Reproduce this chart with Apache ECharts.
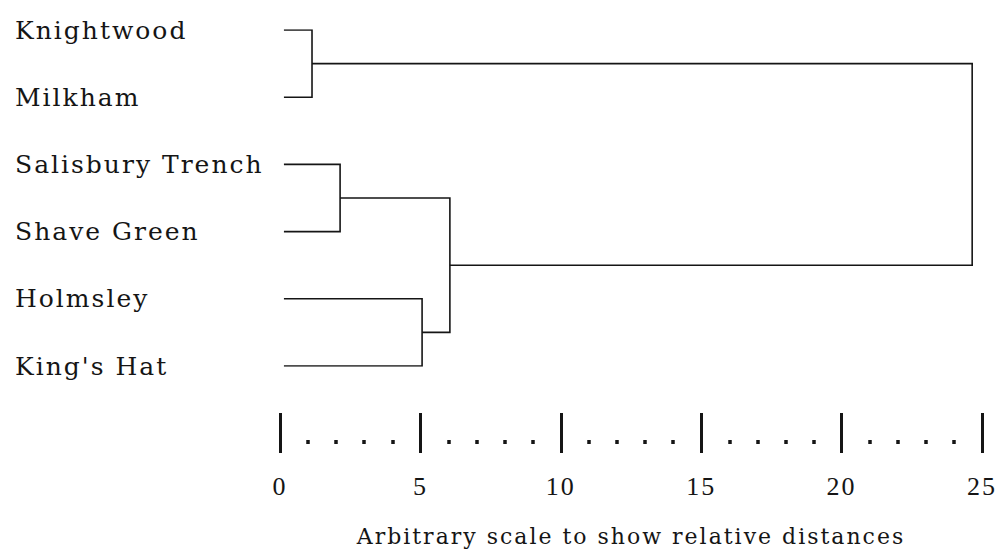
<!DOCTYPE html>
<html>
<head>
<meta charset="utf-8">
<title>Dendrogram</title>
<script src="https://cdn.jsdelivr.net/npm/echarts@6/dist/echarts.min.js"></script>
<style>
  html, body { margin: 0; padding: 0; background: #ffffff; }
  #chart { width: 1000px; height: 552px; }
  /* widely spaced, typewriter-like lettering */
  #chart text { letter-spacing: 2px; }
</style>
</head>
<body>
<div id="chart"></div>
<script>
// Sites (leaves), top to bottom
const leaves = ['Knightwood', 'Milkham', 'Salisbury Trench', 'Shave Green', 'Holmsley', "King's Hat"];

// Rescaled distance at which the leaf branches begin
const leafStart = 0.14;

// Agglomeration steps: [cluster A, cluster B, rescaled distance]
// clusters 0-5 are the leaves, each step creates cluster 6, 7, 8, ...
const mergeA = [0, 2, 4, 7, 6];
const mergeB = [1, 3, 5, 8, 9];
const mergeDist = [1.14, 2.14, 5.06, 6.05, 24.65];

// Scale shown under the tree
const scaleTicks = [0, 5, 10, 15, 20, 25];
const scaleTitle = 'Arbitrary scale to show relative distances';

// Build the bracket polylines from the agglomeration steps
const clusterY = leaves.map((_, i) => i);
const clusterX = leaves.map(() => leafStart);
const branches = [];
for (let k = 0; k < mergeDist.length; k++) {
  const a = mergeA[k], b = mergeB[k], d = mergeDist[k];
  branches.push({
    coords: [
      [clusterX[a], clusterY[a]],
      [d, clusterY[a]],
      [d, clusterY[b]],
      [clusterX[b], clusterY[b]]
    ]
  });
  clusterY.push((clusterY[a] + clusterY[b]) / 2);
  clusterX.push(d);
}

const ink = '#151515';
const chart = echarts.init(document.getElementById('chart'), null, { renderer: 'svg' });

chart.setOption({
  backgroundColor: '#ffffff',
  animation: false,
  grid: { left: 280, right: 18, top: 30, height: 340 },
  xAxis: [
    {
      // major scale marks with numbers and title
      type: 'value',
      position: 'bottom',
      offset: 47,
      min: scaleTicks[0],
      max: scaleTicks[scaleTicks.length - 1],
      interval: scaleTicks[1] - scaleTicks[0],
      axisLine: { show: false, onZero: false },
      axisTick: { show: true, inside: false, length: 40, lineStyle: { color: ink, width: 3 } },
      splitLine: { show: false },
      axisLabel: {
        margin: 60,
        color: ink,
        fontFamily: 'Liberation Serif',
        fontSize: 26
      },
      name: scaleTitle,
      nameLocation: 'middle',
      nameGap: 112,
      nameTextStyle: {
        color: ink,
        fontFamily: 'DejaVu Serif',
        fontSize: 22
      }
    },
    {
      // dotted subdivisions between the major marks
      type: 'value',
      position: 'bottom',
      offset: 74,
      min: scaleTicks[0],
      max: scaleTicks[scaleTicks.length - 1],
      interval: scaleTicks[1] - scaleTicks[0],
      axisLine: { show: false, onZero: false },
      axisTick: { show: false },
      axisLabel: { show: false },
      splitLine: { show: false },
      minorTick: { show: true, splitNumber: 5, length: 4, lineStyle: { color: ink, width: 3.5 } },
      minorSplitLine: { show: false }
    }
  ],
  yAxis: {
    type: 'value',
    inverse: true,
    min: 0,
    max: leaves.length - 1,
    interval: 1,
    axisLine: { show: false, onZero: false },
    axisTick: { show: false },
    splitLine: { show: false },
    axisLabel: {
      formatter: (v) => leaves[v] || '',
      align: 'left',
      margin: 265,
      color: ink,
      fontFamily: 'DejaVu Serif',
      fontSize: 25
    }
  },
  series: [
    {
      type: 'lines',
      coordinateSystem: 'cartesian2d',
      xAxisIndex: 0,
      yAxisIndex: 0,
      polyline: true,
      silent: true,
      lineStyle: { color: ink, width: 1.6, opacity: 1 },
      data: branches
    }
  ]
});
</script>
</body>
</html>
